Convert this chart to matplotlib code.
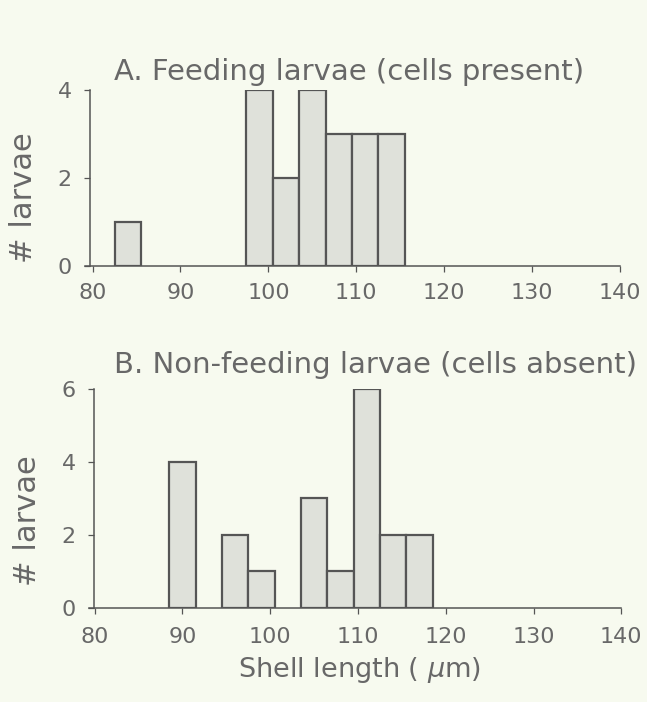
import matplotlib
matplotlib.use("Agg")
import matplotlib.pyplot as plt

# Shell-length histograms (bin width 3 µm, bins given by their left edges)
bin_width = 3.0
feeding_left = [82.5, 97.5, 100.5, 103.5, 106.5, 109.5, 112.5]
feeding_counts = [1, 4, 2, 4, 3, 3, 3]

nonfeeding_left = [88.5, 94.5, 97.5, 103.5, 106.5, 109.5, 112.5, 115.5]
nonfeeding_counts = [4, 2, 1, 3, 1, 6, 2, 2]

x_ticks = [80, 90, 100, 110, 120, 130, 140]
x_ticklabels = ["80", "90", "100", "110", "120", "130", "140"]

bg = "#f7faef"
ink = "#555555"
text_col = "#686868"
bar_fill = "#dfe1da"

plt.rcParams["font.family"] = ["DejaVu Sans"]
plt.rcParams["mathtext.fontset"] = "dejavusans"

fig = plt.figure(figsize=(6.47, 7.02), dpi=100, facecolor=bg)


def style_axes(ax, xlim, yticks, xpad):
    ax.set_facecolor(bg)
    ax.set_xlim(*xlim)
    ax.set_ylim(0, yticks[-1])
    for side in ("top", "right"):
        ax.spines[side].set_visible(False)
    for side in ("left", "bottom"):
        ax.spines[side].set_color(ink)
        ax.spines[side].set_linewidth(1.1)
    ax.spines["bottom"].set_bounds(xlim[0] - 0.6, 140)
    ax.set_xticks(x_ticks)
    ax.set_xticklabels(x_ticklabels)
    ax.set_yticks(yticks)
    ax.tick_params(axis="both", colors=ink, labelcolor=text_col,
                   labelsize=16, length=4, width=0.9, direction="out")
    ax.tick_params(axis="x", pad=xpad)
    ax.tick_params(axis="y", pad=9)


# Panel A
ax1 = fig.add_axes([0.139, 0.621, 0.822, 0.251])
ax1.bar(feeding_left, feeding_counts, width=bin_width, align="edge",
        facecolor=bar_fill, edgecolor=ink, linewidth=1.6)
style_axes(ax1, (79.7, 140.2), [0, 2, 4], 8)
fig.text(0.539, 0.886, "A. Feeding larvae (cells present)", ha="center",
         va="baseline", fontsize=21, color=text_col)
fig.text(0.036, 0.719, "# larvae", rotation=90, ha="center", va="center",
         fontsize=22, color=text_col)

# Panel B
ax2 = fig.add_axes([0.145, 0.134, 0.818, 0.312])
ax2.bar(nonfeeding_left, nonfeeding_counts, width=bin_width, align="edge",
        facecolor=bar_fill, edgecolor=ink, linewidth=1.6)
style_axes(ax2, (79.9, 140.2), [0, 2, 4, 6], 10)
fig.text(0.580, 0.469, "B. Non-feeding larvae (cells absent)", ha="center",
         va="baseline", fontsize=21, color=text_col)
fig.text(0.042, 0.259, "# larvae", rotation=90, ha="center", va="center",
         fontsize=22, color=text_col)
fig.text(0.556, 0.036, "Shell length ( $\\mu$m)", ha="center",
         va="baseline", fontsize=19.5, color=text_col)

fig.savefig("out.png", dpi=100, facecolor=bg)
